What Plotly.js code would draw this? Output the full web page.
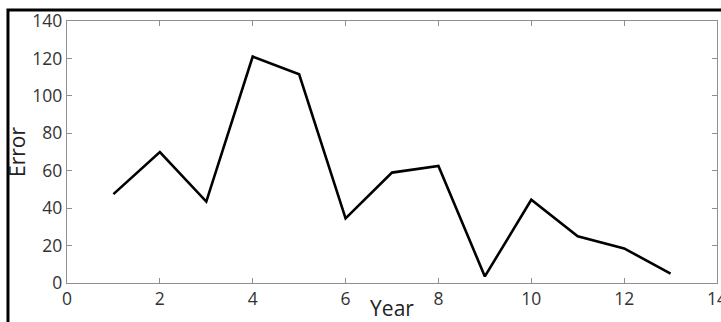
<!DOCTYPE html>
<html>
<head>
<meta charset="utf-8">
<script src="https://cdn.plot.ly/plotly-3.0.1.min.js"></script>
<style>html,body{margin:0;padding:0;background:#fff;}#chart{width:721px;height:322px;}</style>
</head>
<body>
<div id="chart"></div>
<script>
const years = [1, 2, 3, 4, 5, 6, 7, 8, 9, 10, 11, 12, 13];
const errors = [47.5, 70, 43.5, 121, 111.5, 34.5, 59, 62.5, 3.5, 44.5, 25, 18.5, 5];
const xTicks = [0, 2, 4, 6, 8, 10, 12, 14];
const yTicks = [0, 20, 40, 60, 80, 100, 120, 140];

const tickFont = {family: 'Open Sans, sans-serif', size: 17.5, color: '#333333'};
const titleFont = {family: 'Open Sans, sans-serif', size: 21, color: '#222222'};

const axisCommon = {
  showline: true, mirror: 'ticks', linecolor: '#8f8f8f', linewidth: 1.2,
  ticks: 'inside', ticklen: 5, tickcolor: '#8f8f8f', tickwidth: 1,
  showgrid: false, zeroline: false, ticklabeloverflow: 'allow',
  tickfont: tickFont
};

const layout = {
  width: 721, height: 322,
  margin: {l: 67, r: 4, t: 21, b: 39, pad: 0},
  paper_bgcolor: '#fff', plot_bgcolor: '#fff',
  showlegend: false,
  xaxis: Object.assign({}, axisCommon, {
    range: [0, 14], tickvals: xTicks, ticktext: xTicks.map(String),
    title: {text: 'Year', standoff: 0, font: titleFont}
  }),
  yaxis: Object.assign({}, axisCommon, {
    range: [0, 140], tickvals: yTicks, ticktext: yTicks.map(String),
    title: {text: 'Error', standoff: 1, font: titleFont}
  }),
  shapes: [{
    type: 'path', xref: 'paper', yref: 'paper',
    path: 'M -0.0908 -0.3 L -0.0908 1.042 L 1.3 1.042',
    line: {color: '#000', width: 3}
  }]
};

Plotly.newPlot('chart', [{
  x: years, y: errors, type: 'scatter', mode: 'lines',
  line: {color: '#000', width: 2.6}, cliponaxis: false
}], layout, {staticPlot: true, displayModeBar: false});
</script>
</body>
</html>
